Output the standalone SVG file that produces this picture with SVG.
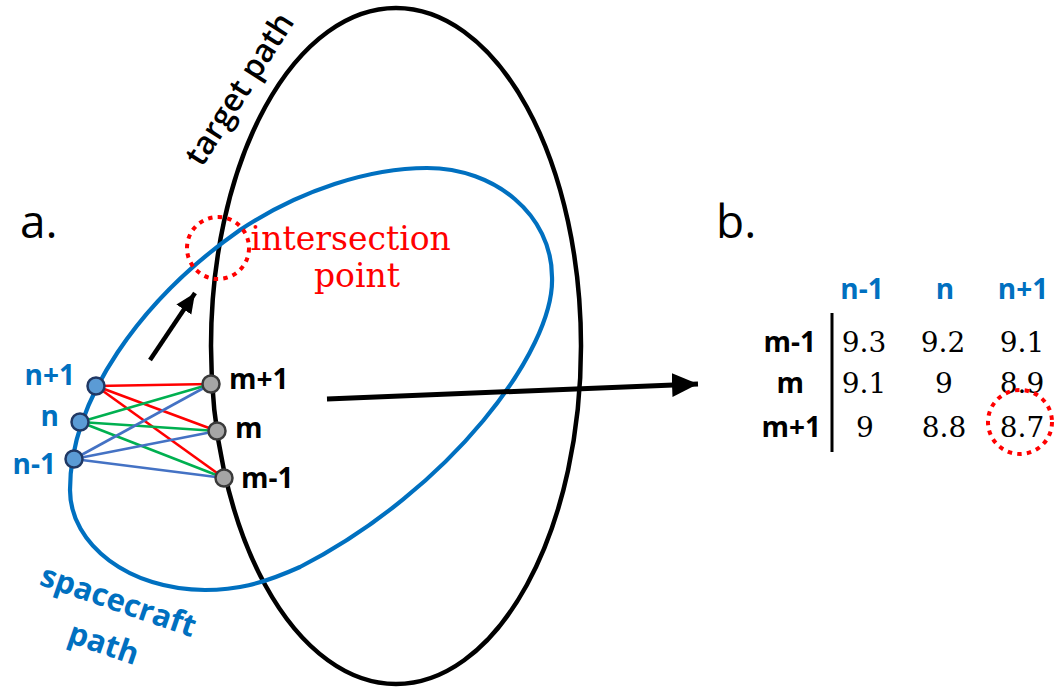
<svg xmlns="http://www.w3.org/2000/svg" width="1056" height="688" viewBox="0 0 1056 688">
  <style>
    .sans { font-family: "Open Sans", "Liberation Sans", sans-serif; }
    .lbl { font-family: "Open Sans", "Liberation Sans", sans-serif; font-weight: 700; font-size: 28px; }
    .blueT { fill: #0070C0; }
    .blackT { fill: #000; }
    .val { font-family: "DejaVu Serif", "Liberation Serif", serif; font-size: 28px; fill: #000; text-anchor: middle; }
    .dotted { fill: none; stroke: #FF0000; stroke-width: 4; stroke-dasharray: 4.5 5.2; }
    .nodeB { fill: #5B9BD5; stroke: #203864; stroke-width: 2.5; }
    .nodeG { fill: #A5A5A5; stroke: #3A3A3A; stroke-width: 2.5; }
    .ln { stroke-width: 2.6; fill: none; }
  </style>
  <defs>
    <marker id="headBig" markerUnits="userSpaceOnUse" markerWidth="28" markerHeight="26" refX="26" refY="13" orient="auto">
      <path d="M0,1 L26,13 L0,25 Z" fill="#000"/>
    </marker>
    <marker id="headSmall" markerUnits="userSpaceOnUse" markerWidth="22" markerHeight="20" refX="20" refY="10" orient="auto">
      <path d="M0,1 L20,10 L0,19 Z" fill="#000"/>
    </marker>
  </defs>
  <rect width="1056" height="688" fill="#fff"/>

  <g id="target-path">
    <ellipse cx="396" cy="346" rx="185" ry="338" fill="none" stroke="#000" stroke-width="4.5"/>
    <text class="sans" font-size="32" font-weight="600" fill="#000" transform="translate(202,168) rotate(-57.5)">target path</text>
  </g>

  <g id="spacecraft-path">
    <path d="M427,168 C495,168 552,215 552,277 C555,350 450,490 300,567 C260,585 235,590 205,590 C130,590 70,545 70,490 C70,400 140,300 240,230 C300,190 370,168 427,168 Z" fill="none" stroke="#0070C0" stroke-width="4.2"/>
    <g class="sans blueT" font-weight="700" font-size="31" text-anchor="middle" transform="translate(115,611) rotate(19)">
      <text x="0" y="0">spacecraft</text>
      <text x="0" y="45">path</text>
    </g>
  </g>

  <g id="intersection-point">
    <circle class="dotted" cx="218" cy="248" r="31"/>
    <text font-family="DejaVu Serif, Liberation Serif, serif" font-size="33" fill="#FF0000" text-anchor="middle">
      <tspan x="356" y="250">intersection</tspan>
      <tspan x="357" y="287">point</tspan>
    </text>
  </g>

  <g id="label-a"><text class="sans" font-size="46" x="20" y="238">a.</text></g>
  <g id="label-b"><text class="sans" font-size="46" x="716" y="238">b.</text></g>

  <g id="connectors">
    <g class="ln" stroke="#FF0000">
      <line x1="96" y1="386" x2="211" y2="384"/>
      <line x1="96" y1="386" x2="217" y2="431"/>
      <line x1="96" y1="386" x2="224" y2="478"/>
    </g>
    <g class="ln" stroke="#00B050">
      <line x1="80" y1="422" x2="211" y2="384"/>
      <line x1="80" y1="422" x2="217" y2="431"/>
      <line x1="80" y1="422" x2="224" y2="478"/>
    </g>
    <g class="ln" stroke="#4472C4">
      <line x1="74" y1="459" x2="211" y2="384"/>
      <line x1="74" y1="459" x2="217" y2="431"/>
      <line x1="74" y1="459" x2="224" y2="478"/>
    </g>
    <line id="arrow-direction" x1="150" y1="360" x2="195" y2="293" stroke="#000" stroke-width="4.5" marker-end="url(#headSmall)"/>
    <line id="arrow-to-table" x1="327" y1="399" x2="698" y2="384" stroke="#000" stroke-width="5" marker-end="url(#headBig)"/>
  </g>

  <g id="node-n1"><circle class="nodeB" cx="96" cy="386" r="8.5"/><text class="lbl blueT" x="75" y="385" text-anchor="end">n+1</text></g>
  <g id="node-n"><circle class="nodeB" cx="80" cy="422" r="8.5"/><text class="lbl blueT" x="59" y="426" text-anchor="end">n</text></g>
  <g id="node-nm1"><circle class="nodeB" cx="74" cy="459" r="8.5"/><text class="lbl blueT" x="56" y="474" text-anchor="end">n-1</text></g>
  <g id="node-m1"><circle class="nodeG" cx="211" cy="384" r="8.5"/><text class="lbl blackT" x="229" y="389">m+1</text></g>
  <g id="node-m"><circle class="nodeG" cx="217" cy="431" r="8.5"/><text class="lbl blackT" x="235" y="438">m</text></g>
  <g id="node-mm1"><circle class="nodeG" cx="224" cy="478" r="8.5"/><text class="lbl blackT" x="241" y="488">m-1</text></g>

  <g id="table">
    <g class="lbl blueT" text-anchor="middle">
      <text x="862" y="299">n-1</text>
      <text x="945" y="299">n</text>
      <text x="1023" y="299">n+1</text>
    </g>
    <g class="lbl blackT" text-anchor="end">
      <text x="816" y="352">m-1</text>
      <text x="804" y="393">m</text>
      <text x="821" y="437">m+1</text>
    </g>
    <line x1="832" y1="313" x2="832" y2="452" stroke="#000" stroke-width="3"/>
    <text class="val" x="864" y="352">9.3</text>
    <text class="val" x="943" y="352">9.2</text>
    <text class="val" x="1022" y="352">9.1</text>
    <text class="val" x="864" y="393">9.1</text>
    <text class="val" x="944" y="393">9</text>
    <text class="val" x="1022" y="393">8.9</text>
    <text class="val" x="865" y="437">9</text>
    <text class="val" x="944" y="437">8.8</text>
    <text class="val" x="1022" y="437">8.7</text>
    <circle class="dotted" cx="1020" cy="422" r="32"/>
  </g>
</svg>
